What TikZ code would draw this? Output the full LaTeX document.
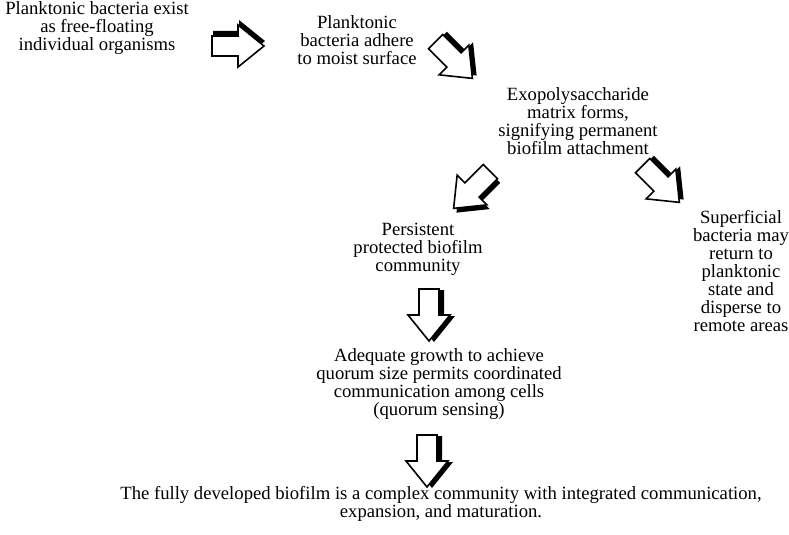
\documentclass[tikz,border=0pt]{standalone}
\usepackage{fontspec}
\setmainfont{Liberation Serif}
\begin{document}
\begin{tikzpicture}[x=0.75pt,y=-0.75pt]
\useasboundingbox (0,0) rectangle (789,535);
\tikzset{
  txt/.style={align=center, inner sep=0pt, font=\fontsize{14}{13.5}\selectfont},
  blockarrow/.pic={
    \fill[black, shift={(1,-5)}] (-26,-10) -- (0,-10) -- (0,-21) -- (26,0) -- (0,21) -- (0,10) -- (-26,10) -- cycle;
    \filldraw[fill=white, draw=black, line width=1.2pt, line join=miter] (-26,-10) -- (0,-10) -- (0,-21) -- (26,0) -- (0,21) -- (0,10) -- (-26,10) -- cycle;
  }
}
\node[txt] (t1) at (97,28) {Planktonic bacteria exist\\as free-floating\\individual organisms};
\node[txt] (t2) at (357,40) {Planktonic\\bacteria adhere\\to moist surface};
\node[txt] (t3) at (578,121) {Exopolysaccharide\\matrix forms,\\signifying permanent\\biofilm attachment};
\node[txt] (t4) at (418,249) {Persistent\\protected biofilm\\community};
\node[txt] (t5) at (741,271) {Superficial\\bacteria may\\return to\\planktonic\\state and\\disperse to\\remote areas};
\node[txt] (t6) at (439,384) {Adequate growth to achieve\\quorum size permits coordinated\\communication among cells\\(quorum sensing)};
\node[txt] (t7) at (441,504) {The fully developed biofilm is a complex community with integrated communication,\\expansion, and maturation.};
\pic at (238,46) {blockarrow};
\pic[rotate=-45] at (454,60) {blockarrow};
\pic[rotate=-135] at (472,190) {blockarrow};
\pic[rotate=-45] at (661,184) {blockarrow};
\pic[rotate=-90] at (429,315) {blockarrow};
\pic[rotate=-90] at (427,461) {blockarrow};
\end{tikzpicture}
\end{document}
